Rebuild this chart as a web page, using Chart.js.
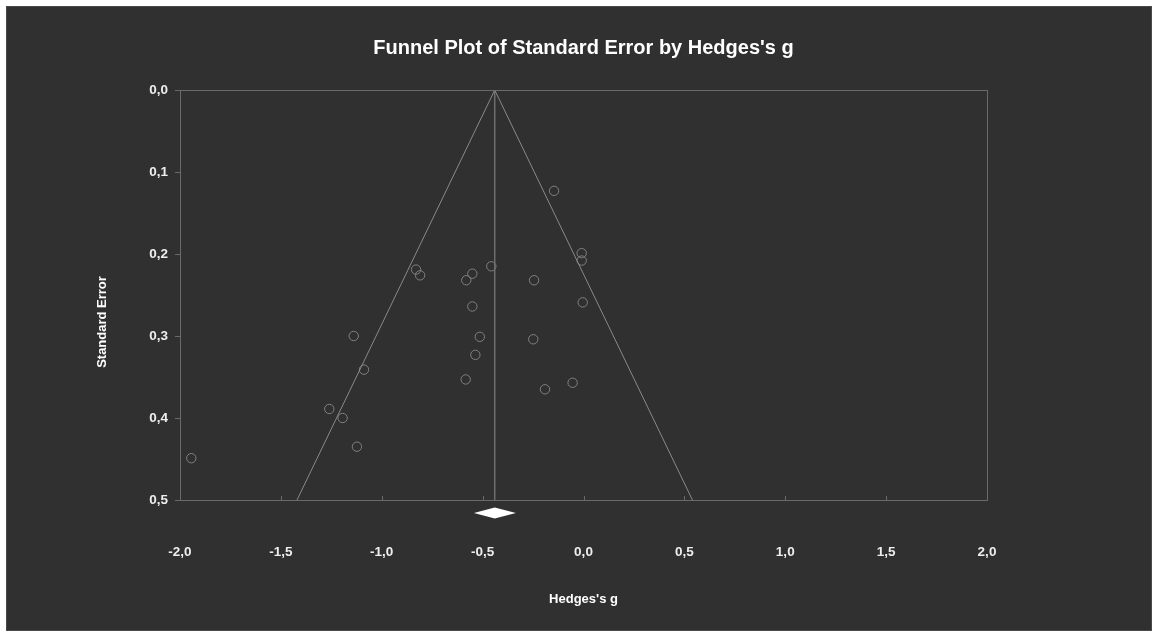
<!DOCTYPE html>
<html>
<head>
<meta charset="utf-8">
<script src="https://cdn.jsdelivr.net/npm/chart.js@4.4.0/dist/chart.umd.min.js"></script>
<style>
  html, body { margin: 0; padding: 0; background: #ffffff; }
  #wrap { width: 1153px; height: 633px; }
</style>
</head>
<body>
<div id="wrap"><canvas id="c" width="1153" height="633"></canvas></div>
<script>
// studies: effect size (Hedges's g) and standard error
const hedgesG = [-0.146, -0.009, -0.009, -0.830, -0.810, -0.551, -0.581, -0.457,
                 -0.245, -0.004, -0.551, -1.139, -0.514, -0.249, -0.536, -1.088,
                 -0.584, -0.054, -0.191, -1.260, -1.194, -1.123, -1.944];
const stdError = [0.123, 0.199, 0.208, 0.219, 0.226, 0.224, 0.232, 0.215,
                  0.232, 0.259, 0.264, 0.300, 0.301, 0.304, 0.323, 0.341,
                  0.353, 0.357, 0.365, 0.389, 0.400, 0.435, 0.449];

// pooled estimate and funnel (95% limits)
const pooledG = -0.44;
const pooledLow = -0.543;
const pooledHigh = -0.335;
const funnelX = [-1.42, -0.44, 0.54];
const funnelY = [0.5, 0.0, 0.5];
const diamondSE = 0.516;

const xTicks = [-2.0, -1.5, -1.0, -0.5, 0.0, 0.5, 1.0, 1.5, 2.0];
const yTicks = [0.0, 0.1, 0.2, 0.3, 0.4, 0.5];

const FONT = 'Liberation Sans, Arial, sans-serif';
const comma = v => Number(v).toFixed(1).replace('.', ',');

const points = hedgesG.map((g, i) => ({x: g, y: stdError[i]}));
const funnel = funnelX.map((g, i) => ({x: g, y: funnelY[i]}));

const framePlugin = {
    id: 'frame',
    beforeDraw(chart) {
        let ctx = chart.ctx;
        ctx.save();
        ctx.fillStyle = '#ffffff';
        ctx.fillRect(0, 0, chart.width, chart.height);
        ctx.fillStyle = '#303030';
        ctx.fillRect(6, 6, chart.width - 7, chart.height - 8);
        ctx.strokeStyle = '#4a4a4a';
        ctx.lineWidth = 1;
        ctx.strokeRect(6.5, 6.5, chart.width - 8, chart.height - 9);
        ctx.restore();
    },
    afterDatasetsDraw(chart) {
        let ctx = chart.ctx;
        let a = chart.chartArea;
        let xs = chart.scales.x, ys = chart.scales.y;
        ctx.save();
        ctx.strokeStyle = '#6a6a6a';
        ctx.lineWidth = 1;
        ctx.strokeRect(Math.round(a.left) + 0.5, Math.round(a.top) + 0.5,
                       Math.round(a.right - a.left), Math.round(a.bottom - a.top));
        // inward ticks on the x axis
        ctx.beginPath();
        xTicks.forEach(v => {
            let px = Math.round(xs.getPixelForValue(v)) + 0.5;
            ctx.moveTo(px, a.bottom);
            ctx.lineTo(px, a.bottom - 4);
        });
        ctx.stroke();
        // summary diamond
        let cy = ys.getPixelForValue(diamondSE);
        ctx.fillStyle = '#ffffff';
        ctx.beginPath();
        ctx.moveTo(xs.getPixelForValue(pooledLow), cy);
        ctx.lineTo(xs.getPixelForValue(pooledG), cy - 5.5);
        ctx.lineTo(xs.getPixelForValue(pooledHigh), cy);
        ctx.lineTo(xs.getPixelForValue(pooledG), cy + 5.5);
        ctx.closePath();
        ctx.fill();
        // y axis title, sits a little below the middle like the original
        ctx.translate(102, 322);
        ctx.rotate(-Math.PI / 2);
        ctx.fillStyle = '#ffffff';
        ctx.font = 'bold 13px ' + FONT;
        ctx.textAlign = 'center';
        ctx.textBaseline = 'middle';
        ctx.fillText('Standard Error', 0, 0);
        ctx.restore();
    }
};

new Chart(document.getElementById('c'), {
    type: 'scatter',
    data: {
        datasets: [
            {
                label: 'funnel',
                data: funnel,
                showLine: true,
                borderColor: '#8a8a8a',
                borderWidth: 1,
                pointRadius: 0,
                fill: false
            },
            {
                label: 'pooled',
                data: [{x: pooledG, y: 0}, {x: pooledG, y: 0.5}],
                showLine: true,
                borderColor: '#6e6e6e',
                borderWidth: 1.5,
                pointRadius: 0
            },
            {
                label: 'studies',
                data: points,
                pointStyle: 'circle',
                pointRadius: 4.7,
                pointBorderWidth: 1,
                pointBackgroundColor: 'rgba(0,0,0,0)',
                pointBorderColor: '#808080'
            }
        ]
    },
    options: {
        responsive: false,
        animation: false,
        layout: {padding: {left: 110, right: 166, top: 0, bottom: 26}},
        plugins: {
            legend: {display: false},
            tooltip: {enabled: false},
            title: {
                display: true,
                fullSize: false,
                text: "Funnel Plot of Standard Error by Hedges's g",
                color: '#ffffff',
                font: {family: FONT, size: 20, weight: 'bold'},
                padding: {top: 36, bottom: 30}
            }
        },
        scales: {
            x: {
                type: 'linear',
                min: -2, max: 2,
                afterBuildTicks: s => { s.ticks = xTicks.map(v => ({value: v})); },
                afterFit: s => { s.height = 107; },
                grid: {display: false, drawTicks: false},
                border: {display: false},
                ticks: {
                    color: '#eeeeee',
                    padding: 44,
                    maxRotation: 0,
                    font: {family: FONT, size: 13.5, weight: 'bold'},
                    callback: v => comma(v)
                },
                title: {
                    display: true,
                    text: "Hedges's g",
                    color: '#ffffff',
                    padding: 0,
                    font: {family: FONT, size: 13, weight: 'bold'}
                }
            },
            y: {
                type: 'linear',
                reverse: true,
                min: 0, max: 0.5,
                afterBuildTicks: s => { s.ticks = yTicks.map(v => ({value: v})); },
                afterFit: s => { s.width = 70; },
                grid: {drawOnChartArea: false, drawTicks: true, tickLength: 5, color: '#6a6a6a'},
                border: {display: false},
                ticks: {
                    color: '#eeeeee',
                    padding: 7,
                    font: {family: FONT, size: 13.5, weight: 'bold'},
                    callback: v => comma(v)
                }
            }
        }
    },
    plugins: [framePlugin]
});
</script>
</body>
</html>
